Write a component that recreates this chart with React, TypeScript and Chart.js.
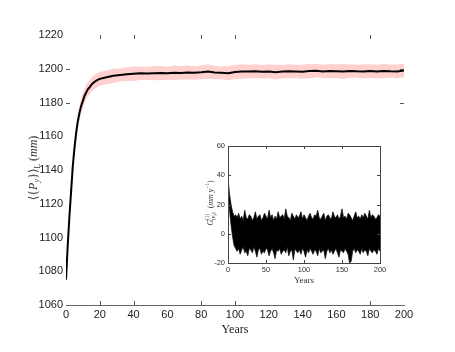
import { useEffect, useRef } from 'react';
import { Chart, registerables } from 'chart.js';
Chart.register(...registerables);

// ---------- main panel data ----------
const mainYears = [
  0, 1, 2, 3, 4, 5, 6, 7, 8, 9, 10, 11, 12, 13, 14, 15, 16, 17, 18, 19, 20,
  24, 28, 32, 36, 40, 44, 48, 52, 56, 60, 64, 68, 72, 76, 80, 84, 88, 92, 96, 100,
  104, 108, 112, 116, 120, 124, 128, 132, 136, 140, 144, 148, 152, 156, 160,
  164, 168, 172, 176, 180, 184, 188, 192, 196, 200,
];
const meanValues = [
  1075, 1095, 1112, 1127, 1142, 1153, 1162, 1169, 1174, 1178, 1181, 1184, 1186, 1188, 1189,
  1190.5, 1191.5, 1192.3, 1193, 1193.5, 1194,
  1195, 1195.8, 1196.3, 1196.8, 1197.1, 1197.3, 1197.2, 1197.4, 1197.5, 1197.3,
  1197.6, 1197.5, 1197.8, 1197.6, 1197.9, 1198.3, 1197.8, 1197.6, 1197.4, 1198.1,
  1198.4, 1198.3, 1198.5, 1198.2, 1198.4, 1198.0, 1198.3, 1198.5, 1198.4, 1198.2,
  1198.6, 1198.8, 1198.4, 1198.6, 1198.5, 1198.3, 1198.7, 1198.5, 1198.4, 1198.6,
  1198.3, 1198.7, 1198.5, 1198.4, 1199.0,
];
const spreadValues = [
  1.5, 2.5, 3, 3.5, 3.8, 4, 4.2, 4.3, 4.4, 4.5, 4.4, 4.3, 4.4, 4.2, 4.3, 4.1, 4.2, 4.0, 4.1, 4.0, 4.1,
  4.0, 4.2, 3.9, 4.1, 4.3, 4.0, 3.8, 4.2, 4.1, 3.9,
  4.3, 4.0, 4.2, 3.9, 4.1, 4.4, 4.0, 3.8, 4.2, 4.1,
  4.3, 3.9, 4.2, 4.0, 4.1, 4.3, 3.9, 4.2, 4.0, 4.1,
  4.4, 4.0, 3.9, 4.2, 4.1, 4.3, 4.0, 3.8, 4.2, 4.1,
  4.0, 4.3, 3.9, 4.1, 4.0,
];
const mainXTickMarks = [20, 40, 80, 100, 180];
const mainYTickMarks = [1180, 1200];

// ---------- inset data ----------
const insetYears = [
  0, 2, 4, 6, 8, 10, 12, 14, 16, 18, 20, 22, 24, 26, 28, 30, 32, 34, 36, 38, 40,
  42, 44, 46, 48, 50, 52, 54, 56, 58, 60, 62, 64, 66, 68, 70, 72, 74, 76, 78, 80,
  82, 84, 86, 88, 90, 92, 94, 96, 98, 100, 102, 104, 106, 108, 110, 112, 114, 116, 118, 120,
  122, 124, 126, 128, 130, 132, 134, 136, 138, 140, 142, 144, 146, 148, 150, 152, 154, 156, 158, 160,
  162, 164, 166, 168, 170, 172, 174, 176, 178, 180, 182, 184, 186, 188, 190, 192, 194, 196, 198, 200,
];
const insetUpper = [
  38, 27, 20, 15, 12, 13,
  11, 14, 10, 12, 9, 16, 11, 10, 13, 12, 9, 11, 15, 10, 12, 13, 9, 11, 14, 12,
  10, 16, 11, 13, 9, 12, 10, 15, 11, 12, 13, 10, 17, 12, 11, 9, 14, 12, 10, 13,
  11, 12, 15, 10, 13, 11, 9, 12, 14, 11, 10, 13, 12, 16, 11, 10, 12, 14, 9, 12,
  13, 11, 10, 15, 12, 11, 13, 10, 12, 17, 11, 12, 10, 14, 13, 11, 9, 12, 15, 11,
  12, 10, 13, 11, 14, 12, 10, 16, 11, 13, 12, 10, 11, 13, 12,
];
const insetLower = [
  30, 16, 6, -2, -8, -10,
  -12, -10, -14, -11, -9, -13, -12, -15, -10, -11, -13, -9, -12, -16, -11, -10, -14, -12, -13, -10,
  -11, -15, -12, -10, -13, -17, -11, -12, -10, -14, -12, -11, -13, -9, -15, -12, -11, -18, -10, -12,
  -13, -11, -14, -10, -12, -16, -11, -13, -10, -12, -14, -11, -12, -15, -10, -13, -12, -11, -17, -12,
  -10, -13, -11, -14, -12, -10, -13, -16, -11, -12, -13, -10, -12, -14, -20, -19, -12, -10, -13, -11,
  -12, -14, -10, -13, -11, -12, -15, -10, -12, -13, -11, -12, -14, -10, -12,
];
const insetXTickMarks = [50, 100, 150];
const insetYTickMarks = [0, 20, 40];

type Seg = { t: string; italic?: boolean; scale?: number; dy?: number; stay?: boolean };

function drawRich(
  ctx: CanvasRenderingContext2D, segs: Seg[], cx: number, cy: number,
  rotate: boolean, base: number, family: string, color: string,
) {
  ctx.save();
  ctx.translate(cx, cy);
  if (rotate) ctx.rotate(-Math.PI / 2);
  const fontOf = (s: Seg) => `${s.italic ? 'italic ' : ''}${base * (s.scale || 1)}px ${family}`;
  let w = 0;
  const widths: number[] = [];
  for (const s of segs) {
    ctx.font = fontOf(s);
    const m = ctx.measureText(s.t).width;
    widths.push(m);
    if (!s.stay) w += m;
  }
  let x = -w / 2;
  ctx.textBaseline = 'middle';
  ctx.fillStyle = color;
  segs.forEach((s, i) => {
    ctx.font = fontOf(s);
    ctx.fillText(s.t, x, s.dy || 0);
    if (!s.stay) x += widths[i];
  });
  ctx.restore();
}

function drawInnerTicks(chart: any, xs: number[], ys: number[], len: number, color: string) {
  const { ctx, chartArea } = chart;
  const { left, right, top, bottom } = chartArea;
  const sx = chart.scales.x;
  const sy = chart.scales.y;
  ctx.save();
  ctx.strokeStyle = color;
  ctx.lineWidth = 1;
  ctx.beginPath();
  for (const v of xs) {
    const p = Math.round(sx.getPixelForValue(v)) + 0.5;
    ctx.moveTo(p, bottom); ctx.lineTo(p, bottom - len);
    ctx.moveTo(p, top); ctx.lineTo(p, top + len);
  }
  for (const v of ys) {
    const p = Math.round(sy.getPixelForValue(v)) + 0.5;
    ctx.moveTo(left, p); ctx.lineTo(left + len, p);
    ctx.moveTo(right, p); ctx.lineTo(right - len, p);
  }
  ctx.stroke();
  ctx.restore();
}

const SANS = "'Liberation Sans', Arial, sans-serif";
const SERIF = "'Liberation Serif', 'DejaVu Serif', serif";
const plain = (v: any) => String(v);

export default function App() {
  const mainRef = useRef<HTMLCanvasElement>(null);
  const insetRef = useRef<HTMLCanvasElement>(null);

  useEffect(() => {
    if (!mainRef.current || !insetRef.current) return;

    const upper = mainYears.map((x, i) => ({ x, y: meanValues[i] + spreadValues[i] }));
    const lower = mainYears.map((x, i) => ({ x, y: meanValues[i] - spreadValues[i] }));
    const mean = mainYears.map((x, i) => ({ x, y: meanValues[i] }));

    const mainPlugin = {
      id: 'mainDecor',
      afterDraw(chart: any) {
        const { ctx, chartArea } = chart;
        drawInnerTicks(chart, mainXTickMarks, mainYTickMarks, 4, '#555');
        drawRich(ctx, [{ t: 'Years' }], (chartArea.left + chartArea.right) / 2, 330, false, 12, SERIF, '#222');
        drawRich(ctx, [
          { t: '⟨{' }, { t: 'P', italic: true }, { t: 'y', italic: true, scale: 0.7, dy: 3 },
          { t: '}⟩' }, { t: 'L', scale: 0.6, dy: 4 }, { t: ' (' }, { t: 'mm', italic: true }, { t: ')' },
        ], 34, 168, true, 12, SERIF, '#333');
      },
    };

    const mainChart = new Chart(mainRef.current, {
      type: 'line',
      data: {
        datasets: [
          { data: upper, borderWidth: 0, pointRadius: 0, fill: false, order: 2, backgroundColor: 'rgb(255,208,208)' },
          { data: lower, borderWidth: 0, pointRadius: 0, fill: '-1', order: 2, backgroundColor: 'rgb(255,208,208)' },
          { data: mean, borderColor: '#000', borderWidth: 2, pointRadius: 0, fill: false, order: 1 },
        ],
      },
      options: {
        animation: false,
        responsive: false,
        devicePixelRatio: 1,
        layout: { padding: { top: 35, right: 51, left: 0, bottom: 0 } },
        plugins: { legend: { display: false }, tooltip: { enabled: false } },
        scales: {
          x: {
            type: 'linear', min: 0, max: 200,
            grid: { display: false, drawTicks: false },
            border: { display: true, color: '#666', width: 1 },
            ticks: { stepSize: 20, font: { family: SANS, size: 11 }, color: '#222', padding: 3, maxRotation: 0, callback: plain },
            afterFit: (s: any) => { s.height = 47; },
          },
          y: {
            type: 'linear', min: 1060, max: 1220,
            grid: { display: false, drawTicks: false },
            border: { display: false },
            ticks: { stepSize: 20, font: { family: SANS, size: 11 }, color: '#222', padding: 3, callback: plain },
            afterFit: (s: any) => { s.width = 66; },
          },
        },
      },
      plugins: [mainPlugin],
    });

    const iu = insetYears.map((x, i) => ({ x, y: insetUpper[i] }));
    const il = insetYears.map((x, i) => ({ x, y: insetLower[i] }));

    const insetPlugin = {
      id: 'insetDecor',
      afterDraw(chart: any) {
        const { ctx, chartArea } = chart;
        const { left, right, top, bottom } = chartArea;
        ctx.save();
        ctx.strokeStyle = '#444';
        ctx.lineWidth = 1;
        ctx.strokeRect(Math.round(left) + 0.5, Math.round(top) + 0.5, Math.round(right - left), Math.round(bottom - top));
        ctx.restore();
        drawInnerTicks(chart, insetXTickMarks, insetYTickMarks, 3, '#444');
        drawRich(ctx, [{ t: 'Years' }], (left + right) / 2, 281, false, 9, SERIF, '#333');
        drawRich(ctx, [
          { t: 'G', italic: true }, { t: '(1)', scale: 0.65, dy: -3, stay: true },
          { t: '[P', scale: 0.6, dy: 3 }, { t: 'y', italic: true, scale: 0.45, dy: 4 }, { t: ']', scale: 0.6, dy: 3 },
          { t: '  (' }, { t: 'mm y', italic: true }, { t: '−1', scale: 0.65, dy: -3 }, { t: ')' },
        ], 211, 203, true, 8, SERIF, '#333');
      },
    };

    const insetChart = new Chart(insetRef.current, {
      type: 'line',
      data: {
        datasets: [
          { data: iu, borderColor: '#111', borderWidth: 0.8, pointRadius: 0, fill: false, backgroundColor: '#000' },
          { data: il, borderColor: '#111', borderWidth: 0.8, pointRadius: 0, fill: '-1', backgroundColor: '#000' },
        ],
      },
      options: {
        animation: false,
        responsive: false,
        devicePixelRatio: 1,
        layout: { padding: { top: 146, right: 75, left: 0, bottom: 0 } },
        plugins: { legend: { display: false }, tooltip: { enabled: false } },
        scales: {
          x: {
            type: 'linear', min: 0, max: 200,
            grid: { display: false, drawTicks: false },
            border: { display: false },
            ticks: { stepSize: 50, font: { family: SANS, size: 7.5 }, color: '#333', padding: 2, maxRotation: 0, callback: plain },
            afterFit: (s: any) => { s.height = 89; },
          },
          y: {
            type: 'linear', min: -20, max: 60,
            grid: { display: false, drawTicks: false },
            border: { display: false },
            ticks: { stepSize: 20, font: { family: SANS, size: 7.5 }, color: '#333', padding: 3, callback: plain },
            afterFit: (s: any) => { s.width = 228; },
          },
        },
      },
      plugins: [insetPlugin],
    });

    return () => {
      mainChart.destroy();
      insetChart.destroy();
    };
  }, []);

  return (
    <div style={{ position: 'absolute', left: 0, top: 0, width: 455, height: 352, background: '#fff' }}>
      <canvas ref={mainRef} width={455} height={352} style={{ position: 'absolute', left: 0, top: 0 }} />
      <canvas ref={insetRef} width={455} height={352} style={{ position: 'absolute', left: 0, top: 0 }} />
    </div>
  );
}
